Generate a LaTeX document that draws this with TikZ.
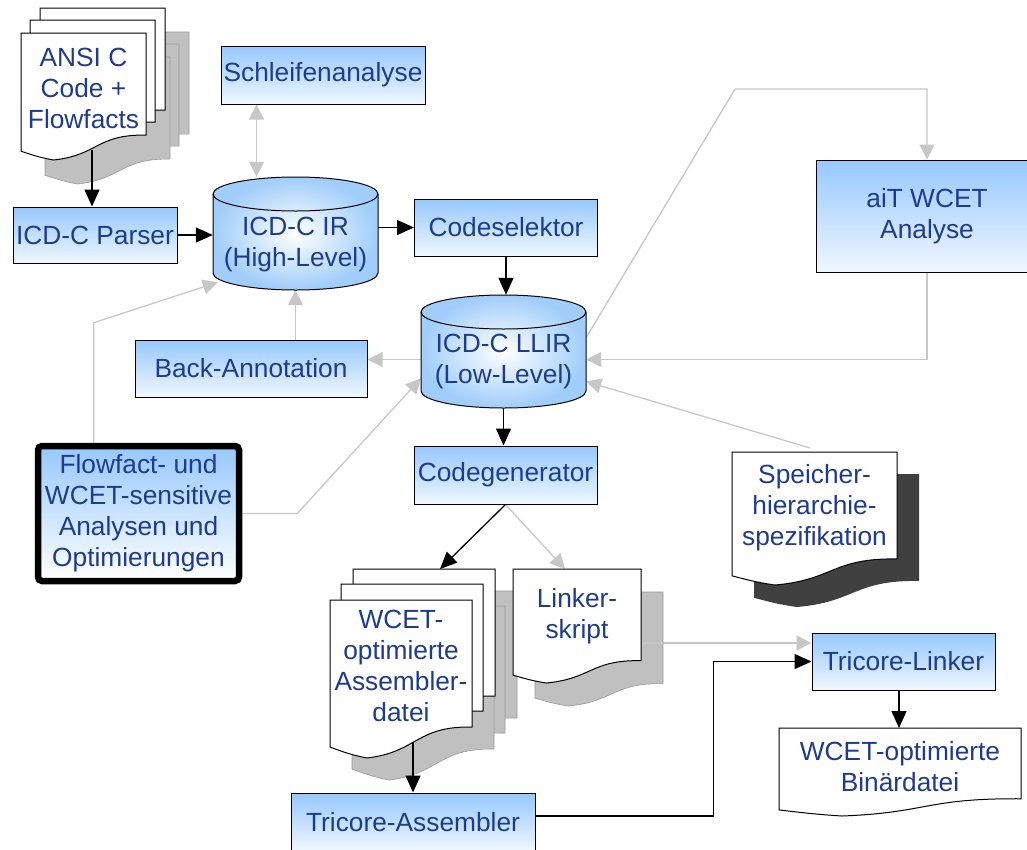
\documentclass[tikz,border=0pt]{standalone}
\usepackage{fontspec}
\setmainfont{Liberation Sans}
\usepackage{tikz}
\usetikzlibrary{arrows.meta}
\pgfdeclarelayer{background}
\pgfdeclarelayer{middle}
\pgfsetlayers{background,middle,main}
\definecolor{txtblue}{RGB}{31,59,140}
\definecolor{boxtop}{RGB}{150,200,255}
\definecolor{boxbot}{RGB}{240,247,255}
\definecolor{cylblue}{RGB}{160,205,250}
\definecolor{shadowgray}{RGB}{192,192,192}
\definecolor{shadowdark}{RGB}{64,64,64}
\tikzstyle{txt} = [text=txtblue, align=center, inner sep=0pt,
                 font=\fontsize{26.3}{31}\selectfont]
\tikzstyle{block} = [txt, rectangle, draw, line width=1pt,
                 top color=boxtop, bottom color=boxbot]
\tikzstyle{optbox} = [block, line width=6.5pt, rounded corners=4pt, bottom color=white]
\tikzstyle{docpage} = [draw, fill=white, line width=1pt]
\tikzstyle{pageshadow} = [fill=shadowgray, draw=black!40, line width=0.6pt]
\tikzstyle{darkshadow} = [fill=shadowdark]
\tikzstyle{cylbody} = [draw, line width=1pt, inner color=white, outer color=cylblue]
\tikzstyle{mainarrow} = [draw, line width=1.3pt, -{Triangle[length=17pt,width=15pt]}]
\tikzstyle{greyarrow} = [draw=black!22, line width=1.3pt, -{Triangle[length=15pt,width=15pt]}]

% document with wavy bottom: x, y, width, height
\newcommand{\docshape}[5][docpage]{%
  \path[#1] (#2,#3) -- ({#2+#4},#3) -- ({#2+#4},{#3+0.804*#5})
    .. controls ({#2+0.604*#4},{#3+0.797*#5}) and ({#2+0.618*#4},{#3+0.962*#5}) .. ({#2+0.26*#4},{#3+#5})
    .. controls ({#2+0.132*#4},{#3+0.977*#5}) and ({#2+0.086*#4},{#3+0.958*#5}) .. (#2,{#3+0.931*#5}) -- cycle;}
% cylinder: left, top, right, bottom, ellipse radius
\newcommand{\cylshape}[5]{%
  \pgfmathsetmacro{\crx}{(#3-#1)/2}
  \path[cylbody] (#1,{#2+#5}) -- (#1,{#4-#5})
    arc[start angle=180, end angle=360, x radius=\crx pt, y radius=#5pt]
    -- (#3,{#2+#5}) arc[start angle=0, end angle=180, x radius=\crx pt, y radius=#5pt] -- cycle;
  \draw[line width=1pt] (#1,{#2+#5}) arc[start angle=180, end angle=360, x radius=\crx pt, y radius=#5pt];}

\begin{document}
\begin{tikzpicture}[x=1pt, y=-1pt]
\useasboundingbox (0,0) rectangle (1027,849);
\clip (0,0) rectangle (1027,849);

%shadows
\begin{pgfonlayer}{background}
\docshape[pageshadow]{64}{32}{125}{127}
\docshape[pageshadow]{54}{44}{125}{127}
\docshape[pageshadow]{45}{57}{125}{127}
\docshape[pageshadow]{375}{591}{142}{158}
\docshape[pageshadow]{363}{606}{142}{158}
\docshape[pageshadow]{352}{622}{142}{158}
\docshape[pageshadow]{535}{592}{128}{114}
\docshape[darkshadow]{754}{474}{165}{133}
\end{pgfonlayer}

%documents
\docshape{40}{8}{125}{127}
\docshape{30}{20}{125}{127}
\docshape{21}{33}{125}{127}
\docshape{353}{569}{142}{158}
\docshape{341}{584}{142}{158}
\docshape{330}{600}{142}{158}
\docshape{513}{569}{128}{114}
\docshape{732}{452}{165}{133}
\docshape{779}{728}{242}{88}

\node [txt] (ansi) at (83.5,88) {ANSI C\\Code +\\Flowfacts};
\node [txt] (asm) at (401,666) {WCET-\\optimierte\\Assembler-\\datei};
\node [txt] (linker) at (577,616) {Linker-\\skript};
\node [txt] (spei) at (814.5,508) {Speicher-\\hierarchie-\\spezifikation};
\node [txt] (bin) at (900,767) {WCET-optimierte\\Binärdatei};

%databases
\cylshape{213}{177}{378}{290}{17}
\cylshape{421}{295}{586}{408}{17}
\node [minimum width=165, minimum height=113, inner sep=0pt] (ir) at (295.5,233.5) {};
\node [minimum width=165, minimum height=113, inner sep=0pt] (llir) at (503.5,351.5) {};
\node [txt] (irtxt) at (295.5,245) {ICD-C IR\\(High-Level)};
\node [txt] (llirtxt) at (503.5,362) {ICD-C LLIR\\(Low-Level)};

%blocks
\node [block, minimum width=164, minimum height=56] (parser) at (95,235) {ICD-C Parser};
\node [block, minimum width=204, minimum height=58] (schleife) at (323,75) {Schleifenanalyse};
\node [block, minimum width=183, minimum height=57] (codesel) at (506,227.5) {Codeselektor};
\node [block, minimum width=232, minimum height=57] (back) at (251,368.5) {Back-Annotation};
\node [block, minimum width=222, minimum height=112] (ait) at (927,216) {aiT WCET\\Analyse};
\node [block, minimum width=183, minimum height=58] (codegen) at (505.5,475) {Codegenerator};
\node [block, minimum width=183, minimum height=57] (tlink) at (903.5,661.5) {Tricore-Linker};
\node [block, minimum width=244, minimum height=58] (tasm) at (413,822) {Tricore-Assembler};
\node [optbox, minimum width=201, minimum height=135] (flow) at (138.5,513.5)
      {Flowfact- und\\WCET-sensitive\\Analysen und\\Optimierungen};

\coordinate (asmtop) at (440,569);
\coordinate (linktop) at (565,569);
\coordinate (linkout) at (641,643);
\coordinate (speitop) at (810,448);
\coordinate (bintop) at (899,728);
\coordinate (sl) at ([xshift=36pt]schleife.south west);
\coordinate (llw) at ([yshift=-8pt]llir.west);
\coordinate (ansiout) at (92,150);

\begin{pgfonlayer}{middle}
\path [mainarrow] (ansiout) -- (ansiout |- parser.north);
\path [mainarrow] (parser.east) -- (parser.east -| ir.west);
\path [mainarrow] (ir.east |- codesel.west) -- (codesel.west);
\path [mainarrow] (codesel.south) -- (codesel.south |- llir.north);
\path [mainarrow] (llir.south) -- (llir.south |- codegen.north);
\path [mainarrow] (codegen.south) -- (asmtop);
\path [mainarrow] (asm.south -| tasm.north) -- (tasm.north);
\path [mainarrow] ([yshift=6pt]tasm.east) -- ++(178,0) |- (tlink.west);
\path [mainarrow] (tlink.south -| bintop) -- (bintop);

\path [greyarrow, {Triangle[length=15pt,width=15pt]}-{Triangle[length=15pt,width=15pt]}]
      (sl) -- (sl |- ir.north);
\path [greyarrow] (back.north -| ir.south) -- (ir.south);
\path [greyarrow] (llw) -- (llw -| back.east);
\path [greyarrow] ([xshift=59pt]flow.north west) -- ++(0,-120)
      -- ([xshift=5pt,yshift=8pt]ir.south west);
\path [greyarrow] (flow.east) -- ++(55,0) -- ([yshift=-27pt]llir.west);
\path [greyarrow] ([yshift=14pt]llir.east) -- (735,89) -| (ait.north);
\path [greyarrow] (ait.south) |- ([yshift=-8pt]llir.east);
\path [greyarrow] (speitop) -- ([yshift=-30pt]llir.east);
\path [greyarrow] (codegen.south) -- (linktop);
\path [greyarrow] (linkout) -- (linkout -| tlink.west);
\end{pgfonlayer}

\end{tikzpicture}
\end{document}
